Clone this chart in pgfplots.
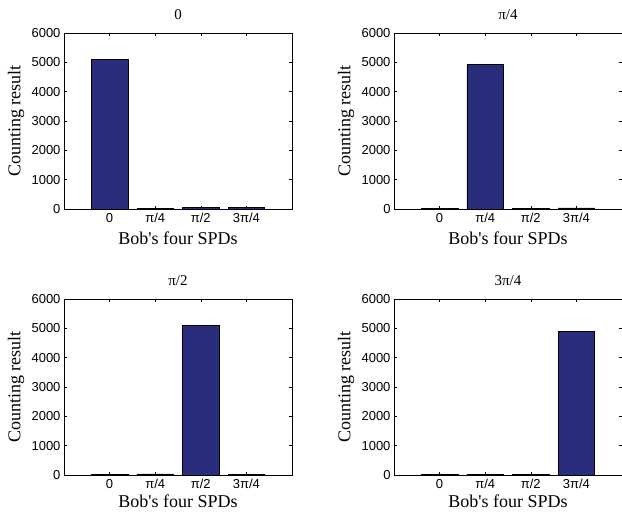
\documentclass[border=0pt]{standalone}
\usepackage{pgfplots}
\pgfplotsset{compat=1.18}
\usepackage{fontspec}
\setmainfont{Liberation Serif}
\newfontfamily\tickfont{Liberation Sans}
\definecolor{barblue}{RGB}{42,45,124}
\pgfplotsset{
  mystyle/.style={
    scale only axis, width=228bp, height=176bp,
    xmin=0, xmax=5, ymin=0, ymax=6000,
    xtick={1,2,3,4}, xticklabels={0,π/4,π/2,3π/4},
    ytick={0,1000,2000,3000,4000,5000,6000},
    scaled y ticks=false,
    /pgf/number format/1000 sep={},
    /pgf/number format/assume math mode=true,
    tick align=inside, tick pos=both,
    xticklabel pos=lower, yticklabel pos=left,
    major tick length=3bp,
    tick style={black, line width=0.5pt},
    axis line style={line width=0.8pt},
    ticklabel style={font=\tickfont\fontsize{13bp}{15bp}\selectfont},
    label style={font=\fontsize{18bp}{20bp}\selectfont},
    title style={font=\fontsize{15bp}{17bp}\selectfont, at={(axis description cs:0.5,1.07)}, anchor=center},
    xlabel={Bob\textquotesingle s four SPDs},
    ylabel={Counting result},
    xlabel style={at={(axis description cs:0.5,-0.166)}, anchor=center, inner sep=0pt},
    ylabel style={at={(axis description cs:-0.21,0.5)}, anchor=center, rotate=0},
    xticklabel style={yshift=-1bp},
    yticklabel style={xshift=0bp},
  },
  lowrow/.style={xlabel style={at={(axis description cs:0.5,-0.148)}}},
  mybar/.style={ybar, bar width=0.8, fill=barblue, draw=black, line width=0.4pt}
}
\begin{document}
\begin{tikzpicture}
\useasboundingbox (0bp,0bp) rectangle (622bp,512bp);
\begin{axis}[mystyle, at={(64bp,303bp)}, anchor=south west, title={0}]
\addplot[mybar] coordinates {(1,5100) (2,25) (3,50) (4,50)};
\end{axis}
\begin{axis}[mystyle, at={(394bp,303bp)}, anchor=south west, title={π/4}]
\addplot[mybar] coordinates {(1,20) (2,4930) (3,25) (4,40)};
\end{axis}
\begin{axis}[mystyle, lowrow, at={(64bp,37bp)}, anchor=south west, title={π/2}]
\addplot[mybar] coordinates {(1,20) (2,40) (3,5100) (4,20)};
\end{axis}
\begin{axis}[mystyle, lowrow, at={(394bp,37bp)}, anchor=south west, title={3π/4}]
\addplot[mybar] coordinates {(1,20) (2,20) (3,20) (4,4900)};
\end{axis}
\end{tikzpicture}
\end{document}
